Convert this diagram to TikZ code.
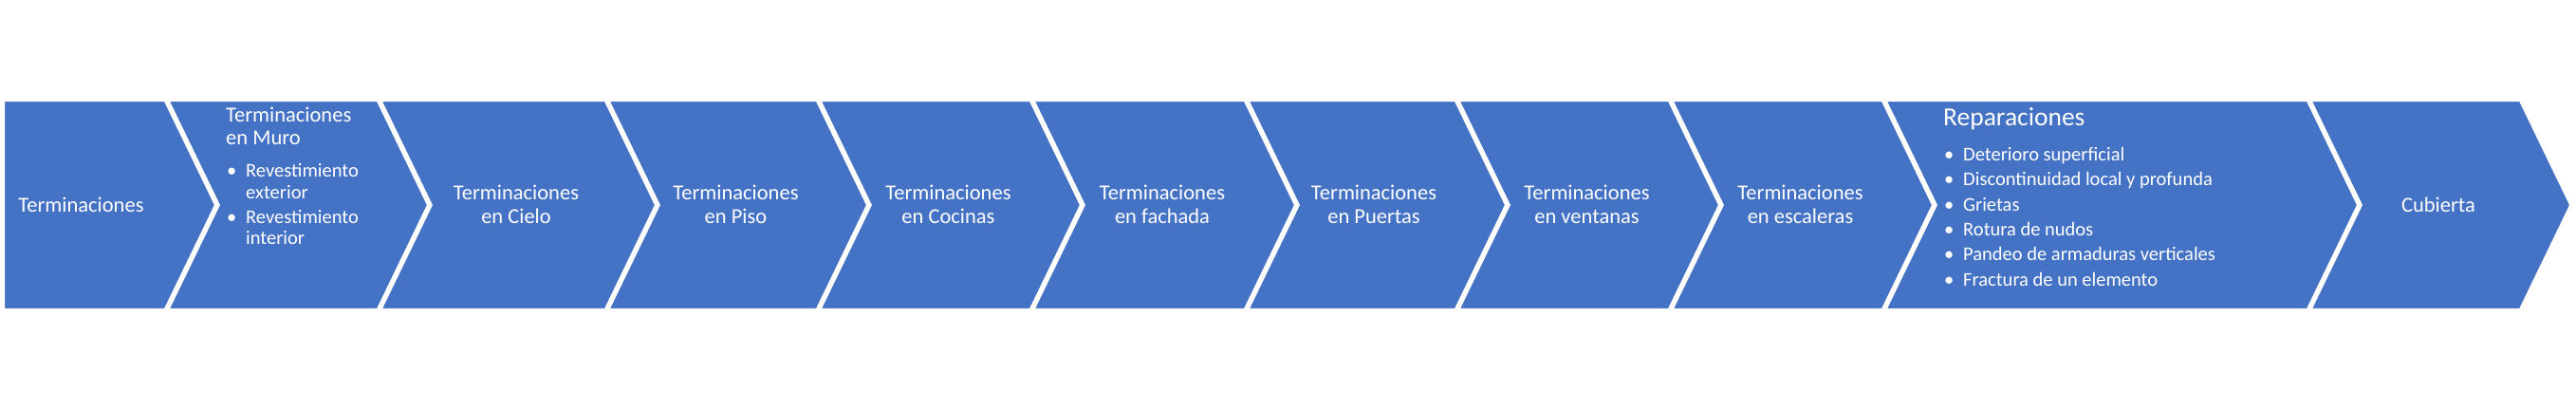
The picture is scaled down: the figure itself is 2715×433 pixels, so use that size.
\documentclass[tikz,border=0pt]{standalone}
\usepackage{fontspec}
\setmainfont{Carlito}
\definecolor{cblue}{RGB}{68,114,196}
\newcommand{\procchev}[3]{%
  \filldraw[stepfill] (#1,104.5) -- (#2,104.5) -- ({#2+54},216) --
    (#2,327.5) -- (#1,327.5) -- ({#1+#3},216) -- cycle;}
\newcommand{\bul}{\makebox[21pt][l]{\hspace{1pt}\textbullet}}
\newcommand{\bulskip}{\hspace*{21pt}}

\begin{document}
\begin{tikzpicture}[x=1pt,y=-1pt,line join=miter,
  stepfill/.style={fill=cblue,draw=white,line width=5.3pt},
  lbl/.style={text=white,inner sep=0pt,align=center,anchor=base,
    font=\fontsize{22.5}{25}\selectfont},
  subhead/.style={text=white,inner sep=0pt,align=left,anchor=base west,
    font=\fontsize{22.5}{24}\selectfont},
  sublist/.style={text=white,inner sep=0pt,align=left,anchor=base west,
    font=\fontsize{20.5}{22.6}\selectfont}]

\useasboundingbox (0,0) rectangle (2715,433);

% ============================== chevrons ==============================
\procchev{2.5}{175}{0}
\procchev{175}{399}{54}
\procchev{399}{639}{54}
\procchev{639}{862}{54}
\procchev{862}{1087}{54}
\procchev{1087}{1313}{54}
\procchev{1313}{1535}{54}
\procchev{1535}{1760}{54}
\procchev{1760}{1985}{54}
\procchev{1985}{2433}{54}
\procchev{2433}{2657}{54}

% =============================== labels ===============================
% (base anchor = baseline of the last line)
\node[lbl] (term)  at (85.5,223.3) {Terminaciones};

\node[subhead] (muro)  at (238,153) {Terminaciones\\en Muro};
\node[sublist] (muroL) at (238,257.7)
  {\bul Revestimiento\\\bulskip exterior\\[3.4pt]\bul Revestimiento\\\bulskip interior};

\node[lbl] (cielo)  at (544,235)  {Terminaciones\\en Cielo};
\node[lbl] (piso)   at (775.5,235) {Terminaciones\\en Piso};
\node[lbl] (cocina) at (999.5,235) {Terminaciones\\en Cocinas};
\node[lbl] (fach)   at (1225,235) {Terminaciones\\en fachada};
\node[lbl] (puerta) at (1448,235) {Terminaciones\\en Puertas};
\node[lbl] (vent)   at (1672.5,235) {Terminaciones\\en ventanas};
\node[lbl] (escal)  at (1897.5,235) {Terminaciones\\en escaleras};

\node[subhead,font=\fontsize{27.5}{30}\selectfont] (repar) at (2048,132.3)
  {Reparaciones};
\node[sublist,font=\fontsize{20.5}{26.3}\selectfont] (reparL) at (2048,301)
  {\bul Deterioro superficial\\
   \bul Discontinuidad local y profunda\\
   \bul Grietas\\
   \bul Rotura de nudos\\
   \bul Pandeo de armaduras verticales\\
   \bul Fractura de un elemento};

\node[lbl] (cubier) at (2570,223.3) {Cubierta};

\end{tikzpicture}
\end{document}
